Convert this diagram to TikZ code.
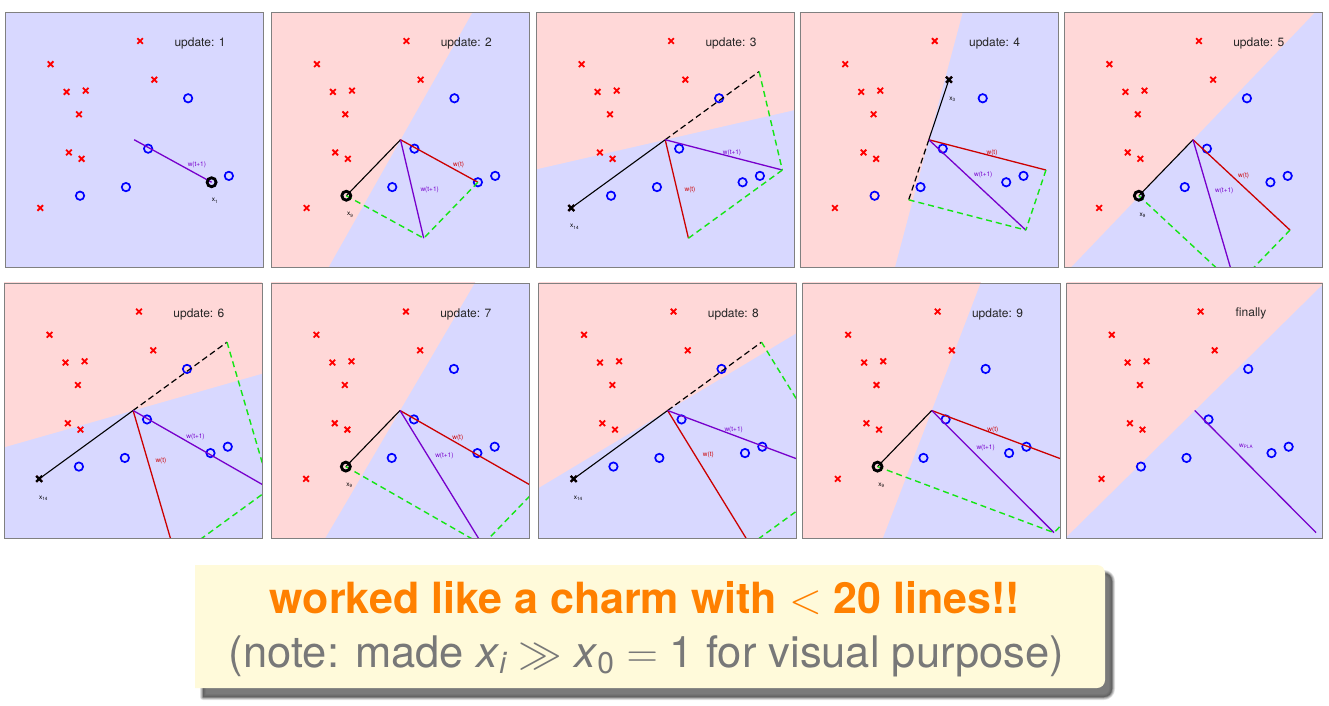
\RequirePackage{fix-cm}
\documentclass[tikz,border=0pt]{standalone}
\usepackage{fontspec}
\setsansfont{TeX Gyre Heros}
\newfontfamily\hv{TeX Gyre Heros}
\usetikzlibrary{calc}
\definecolor{bgB}{RGB}{216,216,255}
\definecolor{bgR}{RGB}{255,216,216}
\definecolor{wtc}{RGB}{204,0,0}
\definecolor{wnc}{RGB}{119,0,204}
\definecolor{gdc}{RGB}{20,230,20}
\definecolor{boxY}{RGB}{255,250,218}
\definecolor{orng}{RGB}{255,128,0}
\definecolor{txtG}{RGB}{120,120,120}
\tikzset{
  xm/.pic={\draw[red, line width=1.8pt] (-2.8pt,-2.8pt)--(2.8pt,2.8pt) (-2.8pt,2.8pt)--(2.8pt,-2.8pt);},
  xmk/.pic={\draw[black, line width=2.3pt] (-3pt,-3pt)--(3pt,3pt) (-3pt,3pt)--(3pt,-3pt);},
  om/.pic={\draw[blue, line width=1.7pt] (0,0) circle[radius=4.2pt];},
  omk/.pic={\draw[black, line width=2.8pt] (0,0) circle[radius=4.5pt];},
  wtl/.style={draw=wtc, line width=1.3pt},
  wnl/.style={draw=wnc, line width=1.3pt},
  blk/.style={draw=black, line width=1.1pt},
  blkd/.style={draw=black, line width=1.2pt, dash pattern=on 6pt off 3.5pt},
  gdl/.style={draw=gdc, line width=1.4pt, dash pattern=on 6pt off 4pt},
  frame/.style={draw=black!50, line width=0.6pt},
  lab/.style={font=\hv\fontsize{6.5}{7.5}\selectfont, inner sep=0pt},
  upd/.style={font=\hv\fontsize{12}{14}\selectfont, inner sep=0pt, text=black!85},
}
\newcommand\defcoords{%
  \coordinate (O) at (0,0);
  \coordinate (X1) at (0.300,-0.167);
  \coordinate (X9) at (-0.210,-0.220);
  \coordinate (X14) at (-0.364,-0.268);
  \coordinate (NX14) at (0.364,0.268);
  \coordinate (X3) at (0.078,0.236);
  \coordinate (NX3) at (-0.078,-0.236);
  \coordinate (W1) at (0.300,-0.167);
  \coordinate (W2) at (0.090,-0.387);
  \coordinate (W3) at (0.454,-0.119);
  \coordinate (W4) at (0.376,-0.355);
  \coordinate (W5) at (0.166,-0.575);
  \coordinate (W6) at (0.530,-0.307);
  \coordinate (W7) at (0.320,-0.527);
  \coordinate (W8) at (0.684,-0.259);
  \coordinate (W9) at (0.474,-0.479);
}
\newcommand\halfred[2]{\fill[bgR] ({-(#2)*10},{(#1)*10}) -- ({(#2)*10},{-(#1)*10}) -- ({(#2)*10-(#1)*10},{-(#1)*10-(#2)*10}) -- ({-(#2)*10-(#1)*10},{(#1)*10-(#2)*10}) -- cycle;}
\newcommand\allpts{%
  \foreach \a/\b in {0.023/0.388,-0.324/0.297,-0.262/0.188,-0.188/0.193,-0.214/0.100,-0.253/-0.050,-0.204/-0.075,-0.364/-0.268,0.078/0.236} {\pic at (\a,\b) {xm};}
  \foreach \a/\b in {0.209/0.163,0.054/-0.035,0.367/-0.142,0.300/-0.167,-0.032/-0.186,-0.210/-0.220} {\pic at (\a,\b) {om};}
}
\newcommand\Panel[5]{%
  \begin{scope}[shift={(#1pt,#2pt)},x=#3pt,y=#4pt]
    \defcoords
    \begin{scope}
      \clip (-0.5,-0.5) rectangle (0.5,0.5);
      \fill[bgB] (-0.5,-0.5) rectangle (0.5,0.5);
      #5
    \end{scope}
    \draw[frame] (-0.5,-0.5) rectangle (0.5,0.5);
  \end{scope}}
\begin{document}
\begin{tikzpicture}[x=1pt,y=1pt]
\useasboundingbox (0,0) rectangle (1329,705);
\fill[white] (0,0) rectangle (1329,705);
% ---- Row 1 ----
\Panel{134.2}{565.25}{258}{254.5}{%
  \allpts
  \draw[wnl] (O) -- (W1);
  \pic at (X1) {omk};
  \node[lab, text=wnc] (a1) at (0.243,-0.099) {w(t+1)};
  \node[lab] (a2) at (0.313,-0.240) {x\textsubscript{1}};
  \node[upd] (a3) at (0.255,0.378) {update: 1};
}
\Panel{400.5}{565.25}{258}{254.5}{%
  \halfred{0.300}{-0.167}
  \allpts
  \draw[wtl] (O) -- (W1);
  \draw[blk] (O) -- (X9);
  \draw[wnl] (O) -- (W2);
  \draw[gdl] (X9) -- (W2);
  \draw[gdl] (W1) -- (W2);
  \pic at (X9) {omk};
  \node[lab, text=wtc] (b1) at (0.225,-0.098) {w(t)};
  \node[lab, text=wnc] (b2) at (0.113,-0.198) {w(t+1)};
  \node[lab] (b3) at (-0.195,-0.295) {x\textsubscript{9}};
  \node[upd] (b4) at (0.255,0.378) {update: 2};
}
\Panel{665.2}{565.25}{258}{254.5}{%
  \halfred{0.090}{-0.387}
  \allpts
  \draw[wtl] (O) -- (W2);
  \draw[blk] (O) -- (X14);
  \draw[blkd] (O) -- (NX14);
  \draw[wnl] (O) -- (W3);
  \draw[gdl] (NX14) -- (W3);
  \draw[gdl] (W2) -- (W3);
  \pic at (X14) {xmk};
  \node[lab, text=wnc] (c1) at (0.259,-0.053) {w(t+1)};
  \node[lab, text=wtc] (c2) at (0.096,-0.197) {w(t)};
  \node[lab] (c3) at (-0.351,-0.342) {x\textsubscript{14}};
  \node[upd] (c4) at (0.255,0.378) {update: 3};
}
\Panel{928.8}{565.25}{258}{254.5}{%
  \halfred{0.454}{-0.119}
  \allpts
  \draw[wtl] (O) -- (W3);
  \draw[blk] (O) -- (X3);
  \draw[blkd] (O) -- (NX3);
  \draw[wnl] (O) -- (W4);
  \draw[gdl] (NX3) -- (W4);
  \draw[gdl] (W3) -- (W4);
  \pic at (X3) {xmk};
  \node[lab] (d1) at (0.092,0.158) {x\textsubscript{3}};
  \node[lab, text=wtc] (d2) at (0.245,-0.053) {w(t)};
  \node[lab, text=wnc] (d3) at (0.211,-0.138) {w(t+1)};
  \node[upd] (d4) at (0.255,0.378) {update: 4};
}
\Panel{1193}{565.25}{258}{254.5}{%
  \halfred{0.376}{-0.355}
  \allpts
  \draw[wtl] (O) -- (W4);
  \draw[blk] (O) -- (X9);
  \draw[wnl] (O) -- (W5);
  \draw[gdl] (X9) -- (W5);
  \draw[gdl] (W4) -- (W5);
  \pic at (X9) {omk};
  \node[lab, text=wtc] (e1) at (0.196,-0.140) {w(t)};
  \node[lab, text=wnc] (e2) at (0.121,-0.199) {w(t+1)};
  \node[lab] (e3) at (-0.195,-0.297) {x\textsubscript{9}};
  \node[upd] (e4) at (0.255,0.378) {update: 5};
}
% ---- Row 2 ----
\Panel{133.1}{294.5}{258}{255}{%
  \halfred{0.166}{-0.575}
  \allpts
  \draw[wtl] (O) -- (W5);
  \draw[blk] (O) -- (X14);
  \draw[blkd] (O) -- (NX14);
  \draw[wnl] (O) -- (W6);
  \draw[gdl] (NX14) -- (W6);
  \draw[gdl] (W5) -- (W6);
  \pic at (X14) {xmk};
  \node[lab, text=wnc] (f1) at (0.242,-0.103) {w(t+1)};
  \node[lab, text=wtc] (f2) at (0.108,-0.197) {w(t)};
  \node[lab] (f3) at (-0.347,-0.346) {x\textsubscript{14}};
  \node[upd] (f4) at (0.255,0.378) {update: 6};
}
\Panel{400}{294.5}{258}{255}{%
  \halfred{0.530}{-0.307}
  \allpts
  \draw[wtl] (O) -- (W6);
  \draw[blk] (O) -- (X9);
  \draw[wnl] (O) -- (W7);
  \draw[gdl] (X9) -- (W7);
  \draw[gdl] (W6) -- (W7);
  \pic at (X9) {omk};
  \node[lab, text=wtc] (g1) at (0.224,-0.107) {w(t)};
  \node[lab, text=wnc] (g2) at (0.172,-0.177) {w(t+1)};
  \node[lab] (g3) at (-0.196,-0.294) {x\textsubscript{9}};
  \node[upd] (g4) at (0.255,0.378) {update: 7};
}
\Panel{667.6}{294.5}{258}{255}{%
  \halfred{0.320}{-0.527}
  \allpts
  \draw[wtl] (O) -- (W7);
  \draw[blk] (O) -- (X14);
  \draw[blkd] (O) -- (NX14);
  \draw[wnl] (O) -- (W8);
  \draw[gdl] (NX14) -- (W8);
  \draw[gdl] (W7) -- (W8);
  \pic at (X14) {xmk};
  \node[lab, text=wnc] (h1) at (0.256,-0.074) {w(t+1)};
  \node[lab, text=wtc] (h2) at (0.158,-0.174) {w(t)};
  \node[lab] (h3) at (-0.346,-0.346) {x\textsubscript{14}};
  \node[upd] (h4) at (0.255,0.378) {update: 8};
}
\Panel{931.7}{294.5}{258}{255}{%
  \halfred{0.684}{-0.259}
  \allpts
  \draw[wtl] (O) -- (W8);
  \draw[blk] (O) -- (X9);
  \draw[wnl] (O) -- (W9);
  \draw[gdl] (X9) -- (W9);
  \draw[gdl] (W8) -- (W9);
  \pic at (X9) {omk};
  \node[lab, text=wtc] (i1) at (0.237,-0.074) {w(t)};
  \node[lab, text=wnc] (i2) at (0.209,-0.145) {w(t+1)};
  \node[lab] (i3) at (-0.195,-0.293) {x\textsubscript{9}};
  \node[upd] (i4) at (0.255,0.378) {update: 9};
}
\Panel{1194.7}{294.5}{256}{255}{%
  \halfred{0.474}{-0.479}
  \allpts
  \draw[wnl] (O) -- (W9);
  \node[lab, text=wnc] (j1) at (0.201,-0.139) {w\textsubscript{PLA}};
  \node[upd] (j2) at (0.22,0.38) {finally};
}
% ---- note box ----
\foreach \s/\o in {6/0.10,4.5/0.12,3/0.15,1.5/0.2} {
  \draw[black, opacity=\o, line width=\s pt, line join=round]
    (203,132) -- (1104,132) arc[start angle=90,end angle=0,radius=8] -- (1112,16) arc[start angle=0,end angle=-90,radius=8] -- (203,8) -- cycle;
}
\fill[black!65, opacity=0.8]
    (203,132) -- (1104,132) arc[start angle=90,end angle=0,radius=8] -- (1112,16) arc[start angle=0,end angle=-90,radius=8] -- (203,8) -- cycle;
\fill[boxY] (195,140) -- (1097,140) arc[start angle=90,end angle=0,radius=8] -- (1105,25) arc[start angle=0,end angle=-90,radius=8] -- (195,17) -- cycle;
\node[anchor=base, inner sep=0pt, font=\hv\bfseries\fontsize{43}{50}\selectfont, text=orng] (t1) at (645,92) {worked like a charm with $<$ 20 lines!!};
\node[anchor=base, inner sep=0pt, font=\hv\fontsize{43.5}{50}\selectfont, text=txtG] (t2) at (646.5,38) {(note: made \textit{x}$_{\mbox{\fontsize{30}{32}\selectfont\itshape i}}$ $\gg$ \textit{x}$_{\mbox{\fontsize{30}{32}\selectfont 0}}$ $=$ 1 for visual purpose)};
\end{tikzpicture}
\end{document}
